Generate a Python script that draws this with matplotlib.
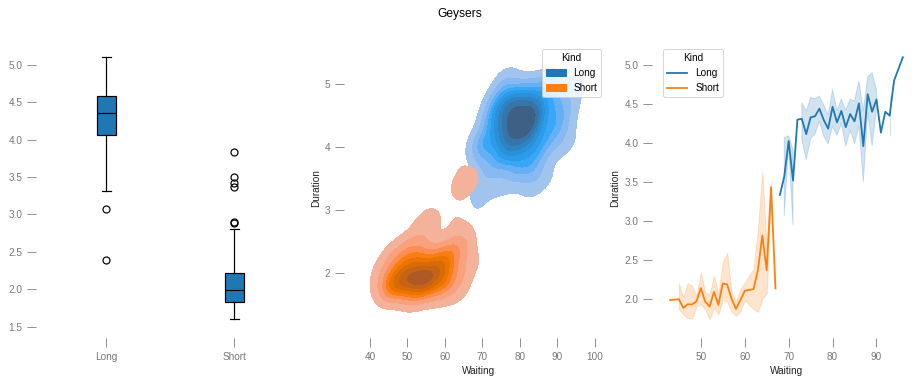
"""Geysers: boxplot + 2D KDE + lineplot of Old Faithful durations."""
import numpy as np
import pandas as pd
import matplotlib
matplotlib.use("Agg")
import matplotlib.pyplot as plt
import seaborn as sns

# Old Faithful eruptions (waiting in min, duration in min), row order as in the dataset
WAITING = [
    79, 54, 74, 62, 85, 55, 88, 85, 51, 85,
    54, 84, 78, 47, 83, 52, 62, 84, 52, 79,
    51, 47, 78, 69, 74, 83, 55, 76, 78, 79,
    73, 77, 66, 80, 74, 52, 48, 80, 59, 90,
    80, 58, 84, 58, 73, 83, 64, 53, 82, 59,
    75, 90, 54, 80, 54, 83, 71, 64, 77, 81,
    59, 84, 48, 82, 60, 92, 78, 78, 65, 73,
    82, 56, 79, 71, 62, 76, 60, 78, 76, 83,
    75, 82, 70, 65, 73, 88, 76, 80, 48, 86,
    60, 90, 50, 78, 63, 72, 84, 75, 51, 82,
    62, 88, 49, 83, 81, 47, 84, 52, 86, 81,
    75, 59, 89, 79, 59, 81, 50, 85, 59, 87,
    53, 69, 77, 56, 88, 81, 45, 82, 55, 90,
    45, 83, 56, 89, 46, 82, 51, 86, 53, 79,
    81, 60, 82, 77, 76, 59, 80, 49, 96, 53,
    77, 77, 65, 81, 71, 70, 81, 93, 53, 89,
    45, 86, 58, 78, 66, 76, 63, 88, 52, 93,
    49, 57, 77, 68, 81, 81, 73, 50, 85, 74,
    55, 77, 83, 83, 51, 78, 84, 46, 83, 55,
    81, 57, 76, 84, 77, 81, 87, 77, 51, 78,
    60, 82, 91, 53, 78, 46, 77, 84, 49, 83,
    71, 80, 49, 75, 64, 76, 53, 94, 55, 76,
    50, 82, 54, 75, 78, 79, 78, 78, 70, 79,
    70, 54, 86, 50, 90, 54, 54, 77, 79, 64,
    75, 47, 86, 63, 85, 82, 57, 82, 67, 74,
    54, 83, 73, 73, 88, 80, 71, 83, 56, 79,
    78, 84, 58, 83, 43, 60, 75, 81, 46, 90,
    46, 74,
]
DURATION = [
    3.600, 1.800, 3.333, 2.283, 4.533, 2.883, 4.700, 3.600, 1.950, 4.350,
    1.833, 3.917, 4.200, 1.750, 4.700, 2.167, 1.750, 4.800, 1.600, 4.250,
    1.800, 1.750, 3.450, 3.067, 4.533, 3.600, 1.967, 4.083, 3.850, 4.433,
    4.300, 4.467, 3.367, 4.033, 3.833, 2.017, 1.867, 4.833, 1.833, 4.783,
    4.350, 1.883, 4.567, 1.750, 4.533, 3.317, 3.833, 2.100, 4.633, 2.000,
    4.800, 4.716, 1.833, 4.833, 1.733, 4.883, 3.717, 1.667, 4.567, 4.317,
    2.233, 4.500, 1.750, 4.800, 1.817, 4.400, 4.167, 4.700, 2.067, 4.700,
    4.033, 1.967, 4.500, 4.000, 1.983, 5.067, 2.017, 4.567, 3.883, 3.600,
    4.133, 4.333, 4.100, 2.633, 4.067, 4.933, 3.950, 4.517, 2.167, 4.000,
    2.200, 4.333, 1.867, 4.817, 1.833, 4.300, 4.667, 3.750, 1.867, 4.900,
    2.483, 4.367, 2.100, 4.500, 4.050, 1.867, 4.700, 1.783, 4.850, 3.683,
    4.733, 2.300, 4.900, 4.417, 1.700, 4.633, 2.317, 4.600, 1.817, 4.417,
    2.617, 4.067, 4.250, 1.967, 4.600, 3.767, 1.917, 4.500, 2.267, 4.650,
    1.867, 4.167, 2.800, 4.333, 1.833, 4.383, 1.883, 4.933, 2.033, 3.733,
    4.233, 2.233, 4.533, 4.817, 4.333, 1.983, 4.633, 2.017, 5.100, 1.800,
    5.033, 4.000, 2.400, 4.600, 3.567, 4.000, 4.500, 4.083, 1.800, 3.967,
    2.200, 4.150, 2.000, 3.833, 3.500, 4.583, 2.367, 5.000, 1.933, 4.617,
    1.917, 2.083, 4.583, 3.333, 4.167, 4.333, 4.500, 2.417, 4.000, 4.167,
    1.883, 4.583, 4.250, 3.767, 2.033, 4.433, 4.083, 1.833, 4.417, 2.183,
    4.800, 1.833, 4.800, 4.100, 3.966, 4.233, 3.500, 4.366, 2.250, 4.667,
    2.100, 4.350, 4.133, 1.867, 4.600, 1.783, 4.367, 3.850, 1.933, 4.500,
    2.383, 4.700, 1.867, 3.833, 3.417, 4.233, 2.400, 4.800, 2.000, 4.150,
    1.867, 4.267, 1.750, 4.483, 4.000, 4.117, 4.083, 4.267, 3.917, 4.550,
    4.083, 2.417, 4.183, 2.217, 4.450, 1.883, 1.850, 4.283, 3.950, 2.333,
    4.150, 2.350, 4.933, 2.900, 4.583, 3.833, 2.083, 4.367, 2.133, 4.350,
    2.200, 4.450, 3.567, 4.500, 4.150, 3.817, 3.917, 4.450, 2.000, 4.283,
    4.767, 4.533, 1.850, 4.250, 1.983, 2.250, 4.750, 4.117, 2.150, 4.417,
    1.817, 4.467,
]
KINDS = ["Long", "Short"]
LONG_FROM_WAITING = 68  # eruptions after >= 68 min wait are "Long"

df = pd.DataFrame({"Waiting": WAITING, "Duration": DURATION})
df["Kind"] = np.where(df["Waiting"] >= LONG_FROM_WAITING, "Long", "Short")

plt.rcParams["font.family"] = ["Liberation Sans", "DejaVu Sans"]
plt.rcParams.update({
    "font.size": 10,
    "axes.spines.left": False,
    "axes.spines.right": False,
    "axes.spines.top": False,
    "axes.spines.bottom": False,
    "axes.labelcolor": "#222222",
    "xtick.color": "#777777",
    "ytick.color": "#777777",
    "xtick.major.size": 9,
    "ytick.major.size": 9,
    "xtick.major.pad": 5,
    "ytick.major.pad": 5,
    "legend.fontsize": 10,
    "legend.title_fontsize": 10,
})

fig, axes = plt.subplots(1, 3, figsize=(920 / 72, 384 / 72), dpi=72)
ax_box, ax_kde, ax_line = axes
fig.subplots_adjust(left=0.046, right=0.994, bottom=0.135, top=0.885, wspace=0.203)

# 1) boxplot per kind
groups = [df.loc[df["Kind"] == k, "Duration"] for k in KINDS]
ax_box.boxplot(groups, tick_labels=KINDS, widths=0.15, patch_artist=True,
               boxprops=dict(facecolor="C0", edgecolor="black", linewidth=1.2),
               whiskerprops=dict(linewidth=1.2), capprops=dict(linewidth=1.2),
               medianprops=dict(color="black", linewidth=1.2),
               flierprops=dict(markersize=7, markeredgewidth=1.2))
ax_box.set_xlim(0.5, 2.5)

# 2) bivariate KDE
sns.kdeplot(data=df, x="Waiting", y="Duration", hue="Kind", hue_order=KINDS,
            fill=True, ax=ax_kde)
sns.move_legend(ax_kde, "upper right")

# 3) mean duration per waiting time
sns.lineplot(data=df, x="Waiting", y="Duration", hue="Kind", hue_order=KINDS,
             seed=0, linewidth=1.8, ax=ax_line)
sns.move_legend(ax_line, "upper left")

# despine-with-offset look: ticks pushed away from the data area
for ax in axes:
    ax.spines["left"].set_position(("outward", 6))
    ax.spines["bottom"].set_position(("outward", 6))

fig.suptitle("Geysers", fontsize=12, y=0.978)
fig.savefig("out.png", dpi=72)
